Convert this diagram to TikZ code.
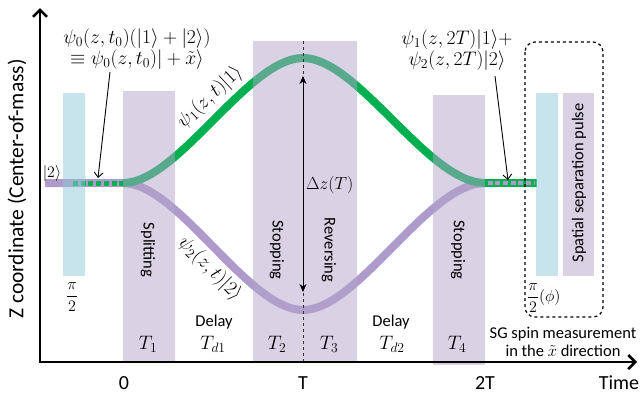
\RequirePackage{fix-cm}
\documentclass[tikz,border=0pt]{standalone}
\usepackage{fontspec}
\setmainfont{Carlito}
\usetikzlibrary{arrows.meta}
\definecolor{grn}{HTML}{00B050}
\definecolor{pur}{HTML}{AE9BCB}
\definecolor{barp}{HTML}{B3A3CA}
\definecolor{barb}{HTML}{90C8D8}
\tikzset{
  pbar/.style={fill=barp,fill opacity=0.5,draw=none},
  bbar/.style={fill=barb,fill opacity=0.5,draw=none},
  wave/.style={line width=8pt},
  barlbl/.style={font=\fontsize{16.5}{18}\selectfont,inner sep=0pt},
  ticklbl/.style={font=\fontsize{20}{22}\selectfont,inner sep=0pt},
  mlbl/.style={font=\fontsize{17.5}{20}\selectfont,inner sep=0pt},
  psilbl/.style={mlbl,scale=1.12},
  tlbl/.style={font=\fontsize{19.5}{22}\selectfont,inner sep=0pt},
  pointer/.style={line width=0.9pt,-{Straight Barb[length=5pt,width=9pt]}},
}
\begin{document}
\begin{tikzpicture}[x=1pt,y=-1pt]
\useasboundingbox (0,0) rectangle (644,394);
% curves
\draw[pur,wave] (45,183) -- (123,183) .. controls (178,183) and (248,310) .. (303,310)
   .. controls (358,310) and (428,183) .. (485,183);
\draw[grn,wave] (123,183) .. controls (178,183) and (248,58) .. (303,58)
   .. controls (358,58) and (428,183) .. (485,183);
\draw[grn,line width=5pt,dash pattern=on 5pt off 2.7pt] (73,183) -- (123,183);
\draw[grn,line width=8pt] (485,183) -- (537,183);
\draw[pur,line width=4.5pt,dash pattern=on 5pt off 2.7pt] (487.5,183) -- (535,183);
% bars
\fill[bbar] (63,93) rectangle (85,276);
\fill[pbar] (123,91) rectangle (175,362);
\fill[pbar] (253,41) rectangle (357,362);
\fill[pbar] (433,95) rectangle (485,365);
\fill[bbar] (536,93) rectangle (558,276);
\fill[pbar] (563,93) rectangle (594,276);
% dashed lines
\draw[dashed,line width=0.8pt,black!80] (303,41) -- (303,362);
\draw[dashed,line width=1.2pt,rounded corners=10pt] (525,42) rectangle (603,317);
% axes
\coordinate (ytop) at (40,8);
\coordinate (orig) at (40,362);
\coordinate (xend) at (637,362);
\draw[line width=2.5pt,{Straight Barb[length=7pt,width=14pt]}-{Straight Barb[length=7pt,width=14pt]}] (ytop) -- (orig) -- (xend);
\node[rotate=90,font=\fontsize{21.5}{24}\selectfont,inner sep=0pt] (ylab) at (17,189) {Z coordinate (Center-of-mass)};
\node[ticklbl] (t0) at (124,383) {0};
\node[ticklbl] (tT) at (303,383) {T};
\node[ticklbl] (t2T) at (485,383) {2T};
\node[ticklbl] (time) at (619,383) {Time};
% delta z arrow
\coordinate (dzt) at (303,76);
\coordinate (dzb) at (303,292);
\draw[line width=0.9pt,{Stealth[length=8pt,width=7pt]}-{Stealth[length=8pt,width=7pt]}] (dzt) -- (dzb);
\node[mlbl,anchor=west] (dz) at (306,185) {$\Delta z(T)$};
% labels
\node[mlbl,font=\fontsize{16}{18}\selectfont] (k2) at (52,173) {$|2\rangle$};
\node[psilbl,align=center] (psi0) at (137,49) {$\psi_0(z,t_0)(|1\rangle+|2\rangle)$\\[-1pt]$\equiv\psi_0(z,t_0)|+\tilde{x}\rangle$};
\coordinate (p0s) at (110,72);
\coordinate (p0e) at (98,178);
\draw[pointer] (p0s) -- (p0e);
\node[psilbl,align=center] (psiR) at (457,50) {$\psi_1(z,2T)|1\rangle+$\\[-1pt]$\psi_2(z,2T)|2\rangle$};
\coordinate (pRs) at (495,76);
\coordinate (pRe) at (508,180);
\draw[pointer] (pRs) -- (pRe);
\node[psilbl,rotate=43] (psi1) at (210,97) {$\psi_1(z,t)|1\rangle$};
\node[psilbl,rotate=-45] (psi2) at (210,269) {$\psi_2(z,t)|2\rangle$};
% bar labels
\node[barlbl,rotate=-90] (split) at (148,250) {Splitting};
\node[barlbl,rotate=-90] (stop1) at (277,250) {Stopping};
\node[barlbl,rotate=-90] (rev) at (329,250) {Reversing};
\node[barlbl,rotate=-90] (stop2) at (458,250) {Stopping};
\node[barlbl,rotate=90] (spat) at (579,183) {Spatial separation pulse};
\node[font=\fontsize{16}{18}\selectfont,inner sep=0pt] (pi1) at (72,297) {$\displaystyle\frac{\pi}{2}$};
\node[font=\fontsize{16}{18}\selectfont,inner sep=0pt,anchor=west] (pi2) at (527,298) {$\displaystyle\frac{\pi}{2}(\phi)$};
\node[tlbl] (T1) at (148,344) {$T_1$};
\node[barlbl] (d1) at (214,322) {Delay};
\node[tlbl] (Td1) at (213,344) {$T_{d1}$};
\node[tlbl] (T2) at (277,344) {$T_2$};
\node[tlbl] (T3) at (329,344) {$T_3$};
\node[barlbl] (d2) at (391,322) {Delay};
\node[tlbl] (Td2) at (392,344) {$T_{d2}$};
\node[tlbl] (T4) at (457,344) {$T_4$};
\node[barlbl,align=center] (sg) at (563,342) {SG spin measurement\\in the $\tilde{x}$ direction};
\end{tikzpicture}
\end{document}
